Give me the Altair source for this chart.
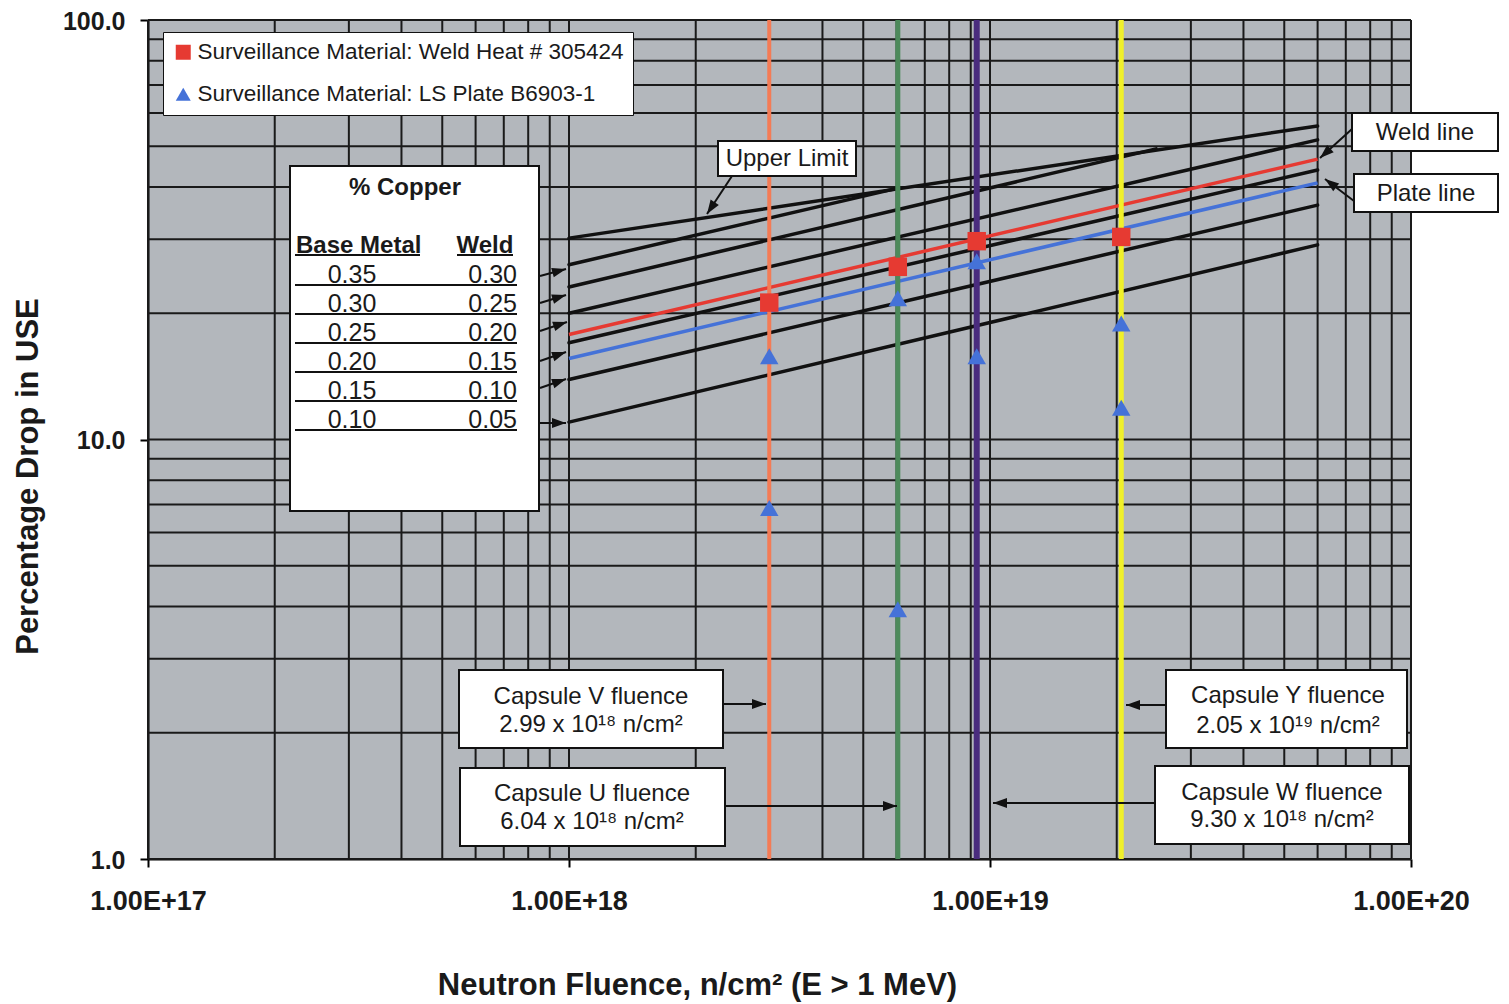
import math
import altair as alt
import pandas as pd

# ---------------- values ----------------
x_decade_exponents = [17, 18, 19]
y_decade_exponents = [0, 1]
grid_multipliers = [1, 2, 3, 4, 5, 6, 7, 8, 9]
x_tick_values = [1e17, 1e18, 1e19, 1e20]
y_tick_values = [1.0, 10.0, 100.0]

# Trend lines (% drop in USE vs fluence), start/end points
trend_names = ["Upper Limit", "0.35/0.30", "0.30/0.25", "0.25/0.20",
               "0.20/0.15", "0.15/0.10", "0.10/0.05"]
trend_x_start = [1e18, 1e18, 1e18, 1e18, 1e18, 1e18, 1e18]
trend_y_start = [30.2, 26.1, 23.1, 20.0, 17.0, 13.9, 11.0]
trend_x_end = [6e19, 6.08e18, 2.48e19, 6e19, 6e19, 6e19, 6e19]
trend_y_end = [55.9, 39.8, 49.3, 51.8, 43.9, 36.2, 29.1]

material_lines = ["Weld line", "Plate line"]
material_x_start = [1e18, 1e18]
material_y_start = [17.8, 15.6]
material_x_end = [6e19, 6e19]
material_y_end = [46.6, 40.9]

capsule_names = ["V", "U", "W", "Y"]
capsule_fluence = [2.99e18, 6.04e18, 9.30e18, 2.05e19]

weld_label = "Surveillance Material: Weld Heat # 305424"
plate_label = "Surveillance Material: LS Plate B6903-1"
weld_fluence = [2.99e18, 6.04e18, 9.30e18, 2.05e19]
weld_drop = [21.2, 25.8, 29.7, 30.4]
plate_fluence = [2.99e18, 2.99e18, 6.04e18, 6.04e18, 9.30e18, 9.30e18, 2.05e19, 2.05e19]
plate_drop = [15.8, 6.87, 21.7, 3.94, 26.6, 15.8, 18.9, 11.9]

base_metal_cu = ["0.35", "0.30", "0.25", "0.20", "0.15", "0.10"]
weld_cu = ["0.30", "0.25", "0.20", "0.15", "0.10", "0.05"]

capsule_box_text = [
    ["Capsule V fluence", "2.99 x 10\u00b9\u2078 n/cm\u00b2"],
    ["Capsule U fluence", "6.04 x 10\u00b9\u2078 n/cm\u00b2"],
    ["Capsule Y fluence", "2.05 x 10\u00b9\u2079 n/cm\u00b2"],
    ["Capsule W fluence", "9.30 x 10\u00b9\u2078 n/cm\u00b2"],
]

# ---------------- styles / layout ----------------
FONT = "Liberation Sans, Arial, sans-serif"
TXT = "#1a1a1a"
W, H = 1263, 839
capsule_colors = ["#f47b55", "#4d8a5b", "#4a2c7e", "#f0f02a"]
capsule_widths = [4, 5, 6, 5]
material_colors = ["#e63a32", "#4572d8"]

x_grid_values = [m * 10.0 ** e for e in x_decade_exponents for m in grid_multipliers] + [1e20]
y_grid_values = [m * 10.0 ** e for e in y_decade_exponents for m in grid_multipliers] + [100.0]

xscale = alt.Scale(type="log", domain=[1e17, 1e20], nice=False)
yscale = alt.Scale(type="log", domain=[1, 100], nice=False)

xaxis = alt.Axis(
    values=x_tick_values,
    labelExpr="'1.00E+' + round(log(datum.value) / LN10)",
    grid=False, ticks=True, tickSize=8, tickWidth=2, tickColor="black",
    domainColor="black", domainWidth=2,
    labelFont=FONT, labelFontSize=27, labelFontWeight="bold", labelColor=TXT,
    labelPadding=21, labelFlush=False, labelOverlap=False,
    title="Neutron Fluence, n/cm\u00b2  (E > 1 MeV)",
    titleFont=FONT, titleFontSize=31, titleFontWeight="bold", titleColor=TXT,
    titleX=549, titleY=126, titleAlign="center", titleBaseline="middle",
)
yaxis = alt.Axis(
    values=y_tick_values, format=".1f",
    grid=False, ticks=True, tickSize=8, tickWidth=2, tickColor="black",
    domainColor="black", domainWidth=2,
    labelFont=FONT, labelFontSize=25, labelFontWeight="bold", labelColor=TXT,
    labelPadding=15, labelOffset=1, labelFlush=False, labelOverlap=False,
    title="Percentage  Drop in USE",
    titleFont=FONT, titleFontSize=31, titleFontWeight="bold", titleColor=TXT,
    titleAngle=270, titleX=-120, titleY=456, titleAlign="center", titleBaseline="middle",
)


def X(field):
    return alt.X(field, scale=xscale, axis=xaxis)


def Y(field):
    return alt.Y(field, scale=yscale, axis=yaxis)


# ---------------- data layers ----------------
xgrid = alt.Chart(pd.DataFrame({"gx": x_grid_values})).mark_rule(
    color="#1a1a1a", strokeWidth=2
).encode(x=X("gx:Q"))

ygrid = alt.Chart(pd.DataFrame({"gy": y_grid_values})).mark_rule(
    color="#1a1a1a", strokeWidth=2
).encode(y=Y("gy:Q"))

trend_df = pd.DataFrame({"name": trend_names, "x0": trend_x_start, "y0": trend_y_start,
                         "x1": trend_x_end, "y1": trend_y_end})
trend = alt.Chart(trend_df).mark_rule(color="#111111", strokeWidth=3.5, strokeCap="round").encode(
    x=X("x0:Q"), y=Y("y0:Q"), x2="x1:Q", y2="y1:Q", detail="name:N")

mat_df = pd.DataFrame({"name": material_lines, "x0": material_x_start, "y0": material_y_start,
                       "x1": material_x_end, "y1": material_y_end, "col": material_colors})
mat = alt.Chart(mat_df).mark_rule(strokeWidth=3.5).encode(
    x=X("x0:Q"), y=Y("y0:Q"), x2="x1:Q", y2="y1:Q",
    color=alt.Color("col:N", scale=None), detail="name:N")

cap_df = pd.DataFrame({"capsule": capsule_names, "fl": capsule_fluence,
                       "col": capsule_colors, "w": capsule_widths})
caps = alt.Chart(cap_df).mark_rule().encode(
    x=X("fl:Q"),
    color=alt.Color("col:N", scale=None),
    strokeWidth=alt.StrokeWidth("w:Q", scale=None))

points = pd.DataFrame({
    "fluence": weld_fluence + plate_fluence,
    "drop": weld_drop + plate_drop,
    "material": [weld_label] * len(weld_fluence) + [plate_label] * len(plate_fluence),
})
legend = alt.Legend(title=None, orient="none", legendX=15, legendY=12,
                    fillColor="white", strokeColor="#111111", padding=9,
                    labelFont=FONT, labelFontSize=22.5, labelColor=TXT, labelLimit=1000,
                    symbolSize=225, rowPadding=19, labelOffset=3, symbolStrokeWidth=0)
pts = alt.Chart(points).mark_point(filled=True, opacity=1, size=340, strokeWidth=0).encode(
    x=X("fluence:Q"),
    y=Y("drop:Q"),
    color=alt.Color("material:N", scale=alt.Scale(domain=[weld_label, plate_label],
                                                 range=material_colors), legend=legend),
    shape=alt.Shape("material:N", scale=alt.Scale(domain=[weld_label, plate_label],
                                                 range=["square", "triangle-up"]), legend=legend),
)

# ---------------- annotation helpers (pixel positions in the plot area) ----------------
ONE = pd.DataFrame({"k": [0]})
ARROW = "M0,0L-2,-0.7L-2,0.7Z"


def box(x0, y0, x1, y1):
    return alt.Chart(ONE).mark_rect(fill="white", stroke="#111111", strokeWidth=2).encode(
        x=alt.value(x0), x2=alt.value(x1), y=alt.value(y0), y2=alt.value(y1))


def label(txt, x, y, size=24, weight="normal", align="center", baseline="middle"):
    return alt.Chart(ONE).mark_text(text=txt, font=FONT, fontSize=size, fontWeight=weight,
                                    align=align, baseline=baseline, color=TXT).encode(
        x=alt.value(x), y=alt.value(y))


def seg(x0, y0, x1, y1, w=2):
    return alt.Chart(ONE).mark_rule(color="#111111", strokeWidth=w).encode(
        x=alt.value(x0), y=alt.value(y0), x2=alt.value(x1), y2=alt.value(y1))


def arrow(tail, tip):
    ang = math.degrees(math.atan2(tip[1] - tail[1], tip[0] - tail[0])) % 360
    head = alt.Chart(ONE).mark_point(shape=ARROW, size=196, filled=True, color="#111111",
                                     opacity=1, angle=ang, strokeWidth=0).encode(
        x=alt.value(tip[0]), y=alt.value(tip[1]))
    return [seg(tail[0], tail[1], tip[0], tip[1]), head]


ann = []
# copper table
ann.append(box(142, 146, 391, 491))
ann.append(label("% Copper", 257, 168, weight="bold"))
ann.append(label("Base Metal", 148, 233, weight="bold", align="left", baseline="alphabetic"))
ann.append(label("Weld", 337, 233, weight="bold", baseline="alphabetic"))
ann.append(seg(147, 235, 272, 235, 2))
ann.append(seg(309, 235, 365, 235, 2))
row_lines = [265, 294, 323, 352, 381, 410]
for i, (b, wv) in enumerate(zip(base_metal_cu, weld_cu)):
    ann.append(label(b, 204, row_lines[i] - 2, size=25, baseline="alphabetic"))
    ann.append(label(wv, 369, row_lines[i] - 2, size=25, align="right", baseline="alphabetic"))
    ann.append(seg(147, row_lines[i], 369, row_lines[i], 2))
table_tails = [(392, 256), (392, 283), (392, 311), (392, 341), (392, 368), (392, 403)]
table_tips = [(418, 249), (418, 275), (419, 302), (418, 332), (418, 359), (418, 403)]
for t, p in zip(table_tails, table_tips):
    ann += arrow(t, p)

# Upper limit / weld line / plate line callouts
ann += arrow((584, 156), (559, 194))
ann.append(box(570, 121, 708, 156))
ann.append(label("Upper Limit", 639, 139))
ann += arrow((1204, 109), (1172, 138))
ann.append(box(1204, 93, 1350, 131))
ann.append(label("Weld line", 1277, 113))
ann += arrow((1206, 181), (1177, 159))
ann.append(box(1206, 154, 1350, 192))
ann.append(label("Plate line", 1278, 174))

# capsule callouts
cap_boxes = [(311, 650, 575, 728), (312, 748, 577, 826), (1018, 650, 1259, 728), (1007, 746, 1261, 824)]
cap_text_pos = [(443, 677, 705), (444, 774, 802), (1140, 676, 706), (1134, 773, 800)]
cap_arrows = [((575, 684), (618, 684)), ((577, 786), (749, 786)),
              ((1018, 685), (978, 685)), ((1007, 783), (845, 783))]
for (bx0, by0, bx1, by1), (tx, ty1, ty2), lines, (ta, tp) in zip(cap_boxes, cap_text_pos,
                                                                  capsule_box_text, cap_arrows):
    ann += arrow(ta, tp)
    ann.append(box(bx0, by0, bx1, by1))
    ann.append(label(lines[0], tx, ty1))
    ann.append(label(lines[1], tx, ty2))

chart = alt.layer(xgrid, ygrid, trend, mat, caps, pts, *ann).properties(
    width=W, height=H,
    padding={"left": 140, "top": 12, "right": 89, "bottom": 143},
    autosize=alt.AutoSizeParams(type="none"),
).configure_view(fill="#b3b7bc", strokeWidth=0)

chart.save("out.html", embed_options={"renderer": "svg", "actions": False})
